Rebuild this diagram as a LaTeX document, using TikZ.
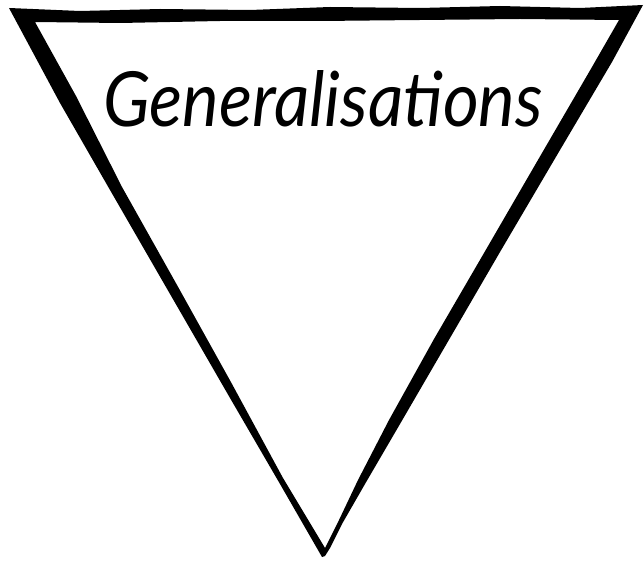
\documentclass[tikz,border=0pt]{standalone}
\usepackage{fontspec}
\newfontfamily\handfont{Lato}
\begin{document}
\begin{tikzpicture}[x=1pt,y=-1pt,
  inkstroke/.style={fill=black,even odd rule},
  labeltext/.style={inner sep=0pt,anchor=base}]
\useasboundingbox (0,0) rectangle (644,561);
% sketchy triangle outline as a filled band
\path[inkstroke]
  (9,8) -- (80,11) -- (160,9) -- (250,10) -- (330,7) -- (420,8) -- (500,6) -- (580,8) -- (643,5)
  -- (612,62) -- (560,150) -- (500,252) -- (450,338) -- (400,424) -- (365,484) -- (342,524) -- (330,548) -- (325,556)
  -- (322,557) -- (280,484) -- (230,398) -- (170,294) -- (110,190) -- (60,103) -- (9,8) -- cycle
  (35,22) -- (120,23) -- (220,21) -- (320,21) -- (420,20) -- (520,19) -- (619,20)
  -- (592,67) -- (542,153) -- (484,253) -- (434,339) -- (389,420) -- (358,480) -- (339,520) -- (325,548)
  -- (283,478) -- (232,384) -- (177,285) -- (122,187) -- (76,96) -- (35,22) -- cycle;
\node[labeltext] (title) at (323,127)
  {\resizebox{440pt}{56pt}{\handfont\itshape Generalisations}};
\end{tikzpicture}
\end{document}
